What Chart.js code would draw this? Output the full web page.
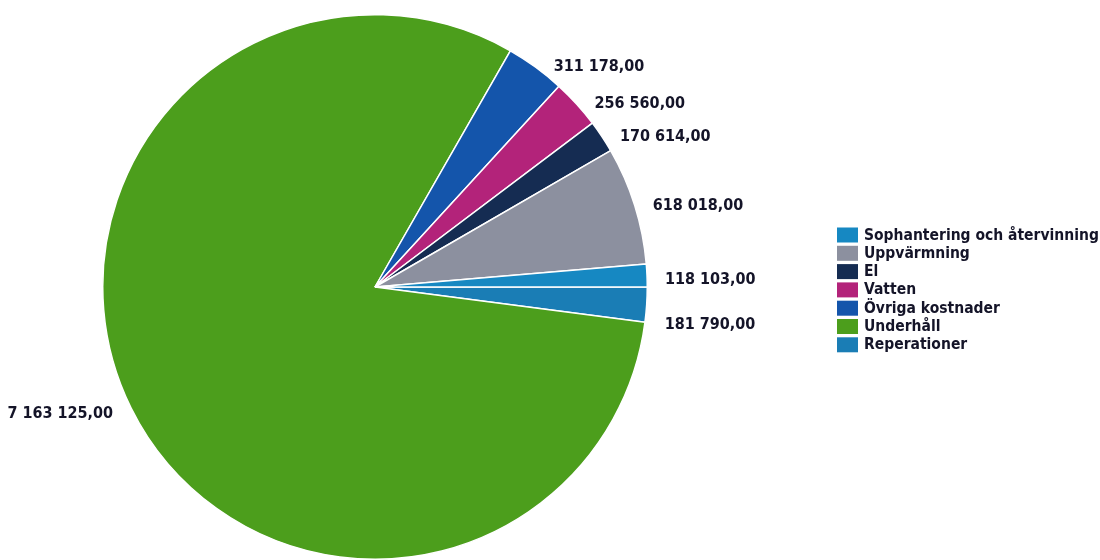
<!DOCTYPE html>
<html>
<head>
<meta charset="utf-8">
<script src="https://cdn.jsdelivr.net/npm/chart.js@4"></script>
<style>
  body { margin: 0; background: #fff; }
  #wrap { width: 1100px; height: 560px; }
</style>
</head>
<body>
<div id="wrap"><canvas id="kostnader" width="1100" height="560"></canvas></div>
<script>
const categories = [
  "Sophantering och återvinning",
  "Uppvärmning",
  "El",
  "Vatten",
  "Övriga kostnader",
  "Underhåll",
  "Reperationer",
];
const amounts = [118103, 618018, 170614, 256560, 311178, 7163125, 181790];
const colors = ["#1688c2", "#8c909f", "#152c52", "#b3237a", "#1455ab", "#4c9e1c", "#1a7db5"];

const TEXT = "#141428";
const FONT = '"DejaVu Sans Condensed", "DejaVu Sans", sans-serif';

// the slices run counter-clockwise from 3 o'clock, chart.js goes clockwise -> feed reversed
const rev = (arr) => arr.slice().reverse();

const fmt = (v) => String(v).replace(/\B(?=(\d{3})+(?!\d))/g, " ") + ",00";

// small vertical shifts so the bottom-right labels don't sit on top of each other
const labelNudge = { "Sophantering och återvinning": 4, "Reperationer": 20, "Underhåll": 6 };

const valueLabels = {
  id: "valueLabels",
  afterDatasetsDraw(chart) {
    const ctx = chart.ctx;
    const meta = chart.getDatasetMeta(0);
    const ds = chart.data.datasets[0];
    ctx.save();
    ctx.font = "bold 16px " + FONT;
    ctx.fillStyle = TEXT;
    ctx.textBaseline = "middle";
    meta.data.forEach((arc, i) => {
      const p = arc.getProps(["x", "y", "startAngle", "endAngle", "outerRadius"], true);
      const mid = (p.startAngle + p.endAngle) / 2;
      const c = Math.cos(mid), s = Math.sin(mid);
      const right = c >= 0;
      const lx = p.x + c * p.outerRadius + (right ? 18 : -18);
      const ly = p.y + s * p.outerRadius + (labelNudge[chart.data.labels[i]] || 0);
      ctx.textAlign = right ? "left" : "right";
      ctx.fillText(fmt(ds.data[i]), lx, ly);
    });
    ctx.restore();
  },
};

const sideLegend = {
  id: "sideLegend",
  afterDraw(chart) {
    const ctx = chart.ctx;
    ctx.save();
    ctx.font = "bold 15.5px " + FONT;
    ctx.textBaseline = "middle";
    ctx.textAlign = "left";
    const x0 = 837, y0 = 235, step = 18.3;
    categories.forEach((name, i) => {
      const y = y0 + i * step;
      ctx.fillStyle = colors[i];
      ctx.fillRect(x0, y - 7.5, 21, 15);
      ctx.fillStyle = TEXT;
      ctx.fillText(name, x0 + 27, y + 0.5);
    });
    ctx.restore();
  },
};

new Chart(document.getElementById("kostnader"), {
  type: "pie",
  data: {
    labels: rev(categories),
    datasets: [
      {
        data: rev(amounts),
        backgroundColor: rev(colors),
        borderColor: "#ffffff",
        borderWidth: 1.5,
      },
    ],
  },
  options: {
    responsive: false,
    animation: false,
    events: [],
    rotation: 90,
    layout: { padding: { top: 14, bottom: 0, left: 0, right: 350 } },
    plugins: {
      legend: { display: false },
      tooltip: { enabled: false },
    },
  },
  plugins: [valueLabels, sideLegend],
});
</script>
</body>
</html>
